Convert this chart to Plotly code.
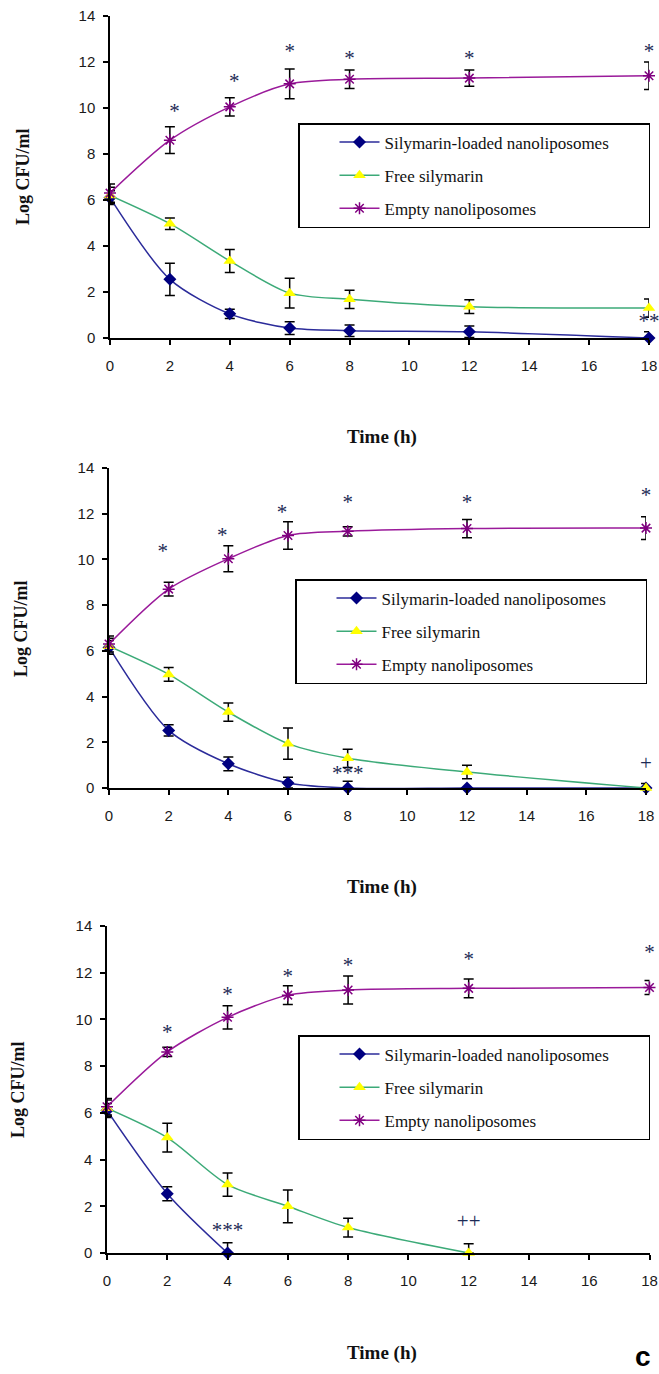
import plotly.graph_objects as go

W, H = 659, 1374

time = [0, 2, 4, 6, 8, 12, 18]
x_ticks = [0, 2, 4, 6, 8, 10, 12, 14, 16, 18]
y_ticks = [0, 2, 4, 6, 8, 10, 12, 14]

series_names = ["Silymarin-loaded nanoliposomes", "Free silymarin", "Empty nanoliposomes"]
legend_pad = "\u00a0" * 8

# Panel 1
p1_loaded = [6.1, 2.55, 1.05, 0.43, 0.32, 0.27, 0.0]
p1_loaded_err = [0.3, 0.7, 0.2, 0.28, 0.25, 0.25, 0.27]
p1_free = [6.2, 4.97, 3.35, 1.95, 1.68, 1.36, 1.3]
p1_free_err = [0.35, 0.25, 0.5, 0.65, 0.4, 0.3, 0.4]
p1_empty = [6.3, 8.6, 10.05, 11.05, 11.25, 11.3, 11.4]
p1_empty_err = [0.4, 0.58, 0.4, 0.65, 0.4, 0.35, 0.6]
p1_mark_x = [2.15, 4.15, 6, 8, 12, 18, 18]
p1_mark_y = [9.8, 11.1, 12.4, 12.1, 12.1, 12.4, 0.65]
p1_mark_t = ["*", "*", "*", "*", "*", "*", "**"]

# Panel 2
p2_loaded = [6.15, 2.52, 1.06, 0.22, 0.0, 0.0, 0.0]
p2_loaded_err = [0.3, 0.25, 0.3, 0.25, 0.3, 0.0, 0.0]
p2_free = [6.2, 4.97, 3.32, 1.94, 1.3, 0.7, 0.0]
p2_free_err = [0.35, 0.3, 0.4, 0.68, 0.4, 0.3, 0.2]
p2_empty = [6.3, 8.7, 10.03, 11.05, 11.23, 11.35, 11.37]
p2_empty_err = [0.35, 0.3, 0.57, 0.6, 0.2, 0.4, 0.5]
p2_mark_x = [1.8, 3.8, 5.8, 8, 12, 18, 8, 18]
p2_mark_y = [10.3, 11.0, 12.0, 12.45, 12.45, 12.75, 0.6, 1.0]
p2_mark_t = ["*", "*", "*", "*", "*", "*", "***", "+"]

# Panel 3
p3_loaded = [6.1, 2.54, 0.0, None, None, None, None]
p3_loaded_err = [0.3, 0.3, 0.44, 0, 0, 0, 0]
p3_free = [6.2, 4.94, 2.93, 2.0, 1.09, 0.0, None]
p3_free_err = [0.35, 0.62, 0.5, 0.7, 0.4, 0.4, 0]
p3_empty = [6.26, 8.61, 10.09, 11.04, 11.26, 11.33, 11.37]
p3_empty_err = [0.35, 0.2, 0.5, 0.4, 0.6, 0.4, 0.3]
p3_mark_x = [2, 4, 6, 8, 12, 18, 4, 12]
p3_mark_y = [9.4, 11.0, 11.8, 12.25, 12.5, 12.8, 0.9, 1.3]
p3_mark_t = ["*", "*", "*", "*", "*", "*", "***", "++"]

panels = [
    dict(loaded=(p1_loaded, p1_loaded_err), free=(p1_free, p1_free_err), empty=(p1_empty, p1_empty_err),
         marks=(p1_mark_x, p1_mark_y, p1_mark_t),
         px_x=(110, 649), px_y=(16, 338), legend_px=(298, 123), title_y=437, ytitle=(23, 177)),
    dict(loaded=(p2_loaded, p2_loaded_err), free=(p2_free, p2_free_err), empty=(p2_empty, p2_empty_err),
         marks=(p2_mark_x, p2_mark_y, p2_mark_t),
         px_x=(109, 646), px_y=(468, 788), legend_px=(295, 579), title_y=887, ytitle=(21, 629)),
    dict(loaded=(p3_loaded, p3_loaded_err), free=(p3_free, p3_free_err), empty=(p3_empty, p3_empty_err),
         marks=(p3_mark_x, p3_mark_y, p3_mark_t),
         px_x=(107, 649.5), px_y=(926, 1253), legend_px=(298, 1035), title_y=1353, ytitle=(18, 1090)),
]

styles = {
    "loaded": dict(line="#2b2b9a", marker=dict(symbol="diamond", color="#000080", size=10)),
    "free": dict(line="#3caa78", marker=dict(symbol="triangle-up", color="#ffff00", size=11)),
    "empty": dict(line="#9a1a9a", marker=dict(symbol="asterisk-open", color="#800080", size=10,
                                                  line=dict(color="#800080", width=1.5))),
}

fig = go.Figure()
layout = dict(width=W, height=H, margin=dict(l=0, r=0, t=0, b=0, autoexpand=False),
              paper_bgcolor="white", plot_bgcolor="white", annotations=[])

for i, p in enumerate(panels, start=1):
    xa = "x" if i == 1 else f"x{i}"
    ya = "y" if i == 1 else f"y{i}"
    lg = "legend" if i == 1 else f"legend{i}"
    for j, (key, name) in enumerate(zip(["loaded", "free", "empty"], series_names)):
        vals, errs = p[key]
        minus = [min(e, v) if v is not None else 0 for v, e in zip(vals, errs)]
        st = styles[key]
        fig.add_trace(go.Scatter(
            x=time, y=vals, name=name + (legend_pad if j == 0 else ""), mode="lines+markers",
            line=dict(color=st["line"], width=1.5, shape="spline", smoothing=0.8),
            marker=st["marker"],
            error_y=dict(type="data", array=errs, arrayminus=minus, color="black",
                         thickness=1.5, width=5),
            xaxis=xa, yaxis=ya, legend=lg, legendgroup=f"{key}{i}",
            cliponaxis=False, connectgaps=False,
        ))
    mx, my, mt = p["marks"]
    fig.add_trace(go.Scatter(
        x=mx, y=my, text=mt, mode="text", showlegend=False,
        textfont=dict(family="Liberation Serif", size=21, color="#1c2a55"),
        textposition="middle center", xaxis=xa, yaxis=ya, cliponaxis=False,
    ))

    x0, x1 = p["px_x"]
    y0, y1 = p["px_y"]
    axkey = "xaxis" if i == 1 else f"xaxis{i}"
    aykey = "yaxis" if i == 1 else f"yaxis{i}"
    layout[axkey] = dict(
        domain=[x0 / W, x1 / W], range=[0, 18], anchor=ya, tickmode="array",
        tickvals=x_ticks, ticks="outside", ticklen=5, tickwidth=1.5, tickcolor="black",
        showline=True, linecolor="black", linewidth=1.5, showgrid=False, zeroline=False,
        tickfont=dict(family="Liberation Sans", size=15, color="#1a1a1a"),
        ticklabelstandoff=8, automargin=False,
    )
    layout[aykey] = dict(
        domain=[1 - y1 / H, 1 - y0 / H], range=[0, 14], anchor=xa, tickmode="array",
        tickvals=y_ticks, ticks="outside", ticklen=5, tickwidth=1.5, tickcolor="black",
        showline=True, linecolor="black", linewidth=1.5, showgrid=False, zeroline=False,
        tickfont=dict(family="Liberation Sans", size=15, color="#1a1a1a"),
        ticklabelstandoff=5, automargin=False,
    )
    lx, ly = p["legend_px"]
    layout[lg] = dict(
        x=lx / W, y=1 - ly / H, xref="paper", yref="paper", xanchor="left", yanchor="top",
        bgcolor="white", bordercolor="black", borderwidth=1.5,
        font=dict(family="Liberation Serif", size=17, color="#111"),
        tracegroupgap=8, indentation=35, itemwidth=40,
    )
    layout["annotations"].append(dict(
        text="<b>Time (h)</b>", x=382 / W, y=1 - p["title_y"] / H, xref="paper", yref="paper",
        showarrow=False, font=dict(family="Liberation Serif", size=19, color="#111"),
        xanchor="center", yanchor="middle"))
    tx, ty = p["ytitle"]
    layout["annotations"].append(dict(
        text="<b>Log CFU/ml</b>", x=tx / W, y=1 - ty / H, xref="paper", yref="paper",
        showarrow=False, textangle=-90, font=dict(family="Liberation Serif", size=18, color="#111"),
        xanchor="center", yanchor="middle"))

layout["annotations"].append(dict(
    text="<b>c</b>", x=643 / W, y=0, xref="paper", yref="paper", showarrow=False,
    font=dict(family="Liberation Sans", size=28, color="black"), xanchor="center", yanchor="bottom"))

fig.update_layout(**layout)
fig.write_html("out.html", config={"displayModeBar": False},
               post_script="document.body.style.margin='0';document.body.style.overflow='hidden';")
